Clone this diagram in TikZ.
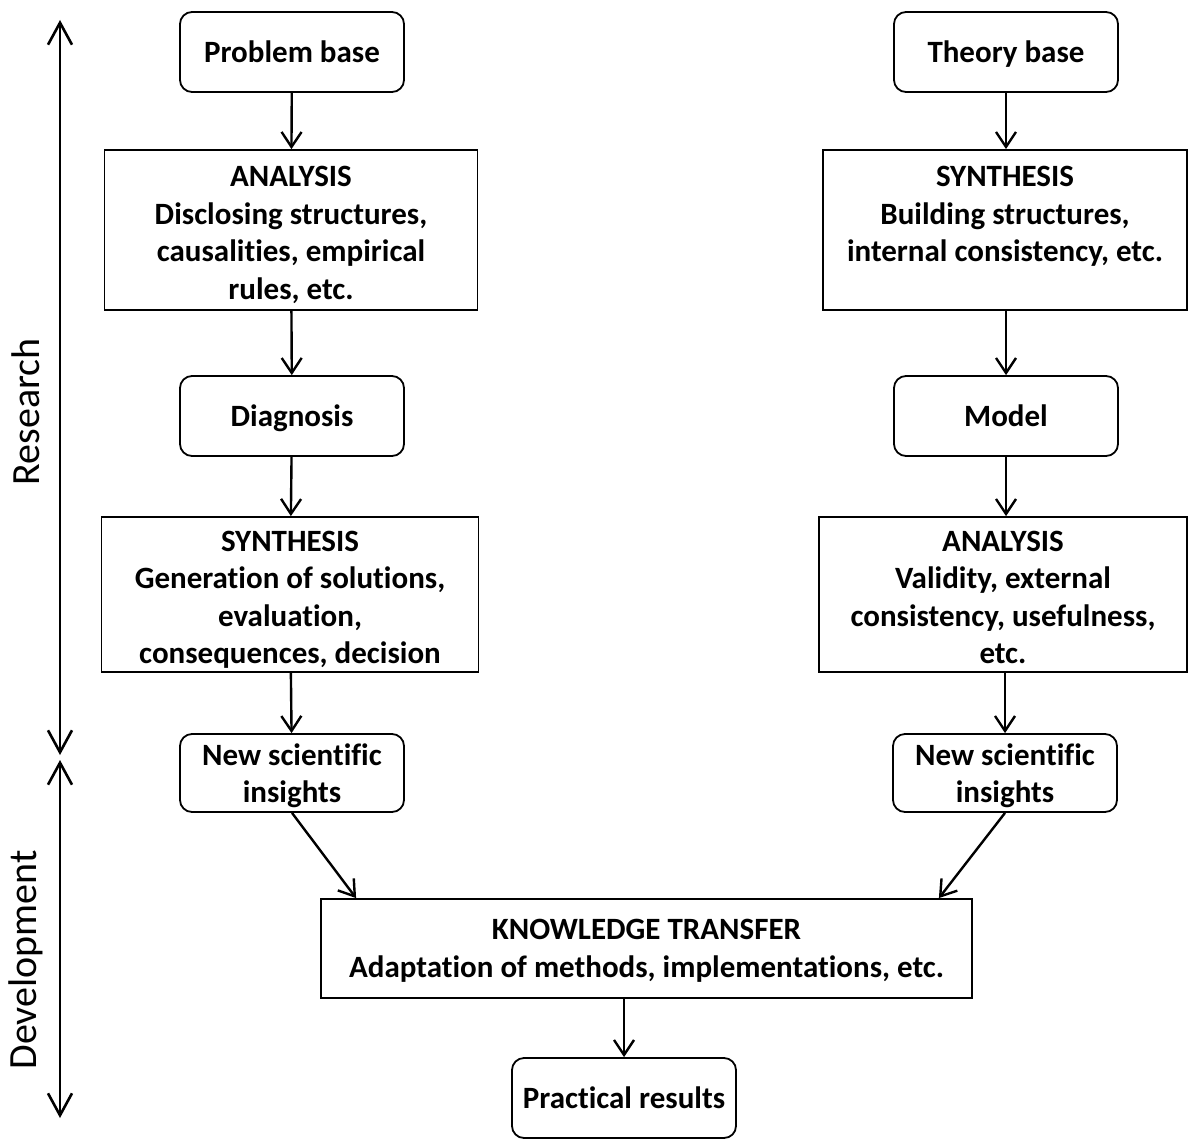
\documentclass[tikz,border=0pt]{standalone}
\usepackage{fontspec}
\setmainfont{Carlito}[Ligatures=CommonOff]
\usetikzlibrary{arrows.meta}
% extra room above the first line of the tall boxes
\newcommand\firstline{\rule{0pt}{26pt}}
\begin{document}
\begin{tikzpicture}[x=1pt,y=-1pt,
  every node/.style={font=\fontsize{31}{37.5}\selectfont\bfseries, align=center, inner sep=0pt, text depth=-3pt},
  rbox/.style={draw, line width=1.8pt, rounded corners=12pt, minimum width=224pt, minimum height=80pt},
  sbox/.style={draw, line width=1.8pt, minimum height=160pt},
  flow/.style={line width=2.4pt, -{Straight Barb[length=15pt,width=20pt,line width=2.4pt]}},
  axis/.style={line width=2.6pt, {Straight Barb[length=22pt,width=24pt,line width=2.6pt]}-{Straight Barb[length=22pt,width=24pt,line width=2.6pt]}},
  side/.style={font=\fontsize{40}{44}\selectfont, rotate=90, text depth=}]
\useasboundingbox (0,0) rectangle (1188,1140);

% left column
\node[rbox] (pb) at (292,52) {Problem base};
\node[sbox, minimum width=373pt] (an1) at (291,230) {\firstline ANALYSIS\\Disclosing structures,\\causalities, empirical\\rules, etc.};
\node[rbox] (dg) at (292,416) {Diagnosis};
\node[sbox, minimum width=377pt, minimum height=155pt] (sy1) at (290,594.5) {\firstline SYNTHESIS\\Generation of solutions,\\evaluation,\\consequences, decision};
\node[rbox, minimum height=78pt] (ns1) at (292,773) {New scientific\\insights};

% right column
\node[rbox] (tb) at (1006,52) {Theory base};
\node[sbox, minimum width=364pt] (sy2) at (1005,230) {\firstline SYNTHESIS\\Building structures,\\internal consistency, etc.\\\mbox{}};
\node[rbox] (md) at (1006,416) {Model};
\node[sbox, minimum width=368pt, minimum height=155pt] (an2) at (1003,594.5) {\firstline ANALYSIS\\Validity, external\\consistency, usefulness,\\etc.};
\node[rbox, minimum height=78pt] (ns2) at (1005,773) {New scientific\\insights};

% bottom
\node[sbox, minimum width=651pt, minimum height=99pt] (kt) at (646.5,948.5) {KNOWLEDGE TRANSFER\\Adaptation of methods, implementations, etc.};
\node[rbox] (pr) at (624,1098) {Practical results};

% connectors
\draw[flow] (pb) -- (an1);
\draw[flow] (an1) -- (dg);
\draw[flow] (dg) -- (sy1);
\draw[flow] (sy1) -- (ns1);
\draw[flow] (tb.south) -- (tb.south |- sy2.north);
\draw[flow] (sy2.south -| md.north) -- (md);
\draw[flow] (md) -- (md |- an2.north);
\draw[flow] (an2.south -| ns2.north) -- (ns2);
\draw[flow] (ns1.south) -- ([xshift=36pt]kt.north west);
\draw[flow] (ns2.south) -- ([xshift=-34pt]kt.north east);
\draw[flow] (pr.north |- kt.south) -- (pr);

% phase axis
\coordinate (rtop) at (60,20);
\coordinate (rbot) at (60,755);
\coordinate (dtop) at (60,760);
\coordinate (dbot) at (60,1118);
\draw[axis] (rtop) -- (rbot);
\draw[axis] (dtop) -- (dbot);
\node[side] (lr) at (26,412) {Research};
\node[side] (ld) at (26,960) {Development};
\end{tikzpicture}
\end{document}
